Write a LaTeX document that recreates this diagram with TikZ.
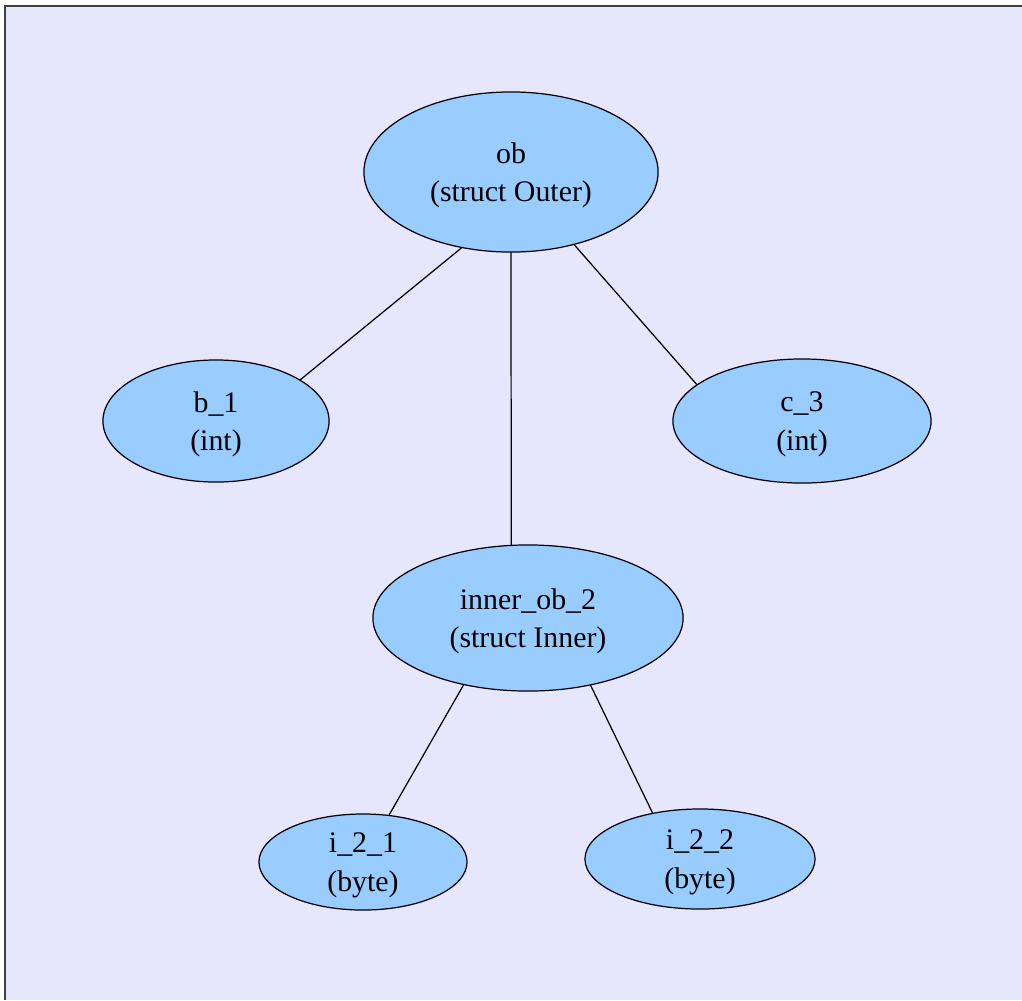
\documentclass[tikz,border=0pt]{standalone}
\usepackage{fontspec}
\setmainfont{Liberation Serif}
\usetikzlibrary{shapes}
\definecolor{bgcol}{HTML}{E6E6FC}
\definecolor{nodecol}{HTML}{99CCFF}
\tikzset{field/.style={ellipse,draw,line width=0.35pt,fill=nodecol,inner sep=0pt,outer sep=0pt,align=center,text depth=-1.8pt,font=\fontsize{8.5}{11}\selectfont}}

\begin{document}
\begin{tikzpicture}[x=0.01cm,y=-0.01cm]
  \useasboundingbox (0,0) rectangle (1022,1000);
  \fill[bgcol] (5,6) rectangle (1022,1000);
  \draw[black!75,line width=0.5pt] (5,1000) -- (5,6) -- (1022,6);
  \node(ob) [field,minimum width=2.94cm,minimum height=1.60cm] at (511,172) {ob\\(struct Outer)};
  \node(b1) [field,minimum width=2.26cm,minimum height=1.22cm] at (216,421) {b\_1\\(int)};
  \node(c3) [field,minimum width=2.58cm,minimum height=1.24cm] at (802,421) {c\_3\\(int)};
  \node(inner) [field,minimum width=3.10cm,minimum height=1.46cm] at (528,618) {inner\_ob\_2\\(struct Inner)};
  \node(i21) [field,minimum width=2.08cm,minimum height=0.96cm] at (363,862) {i\_2\_1\\(byte)};
  \node(i22) [field,minimum width=2.30cm,minimum height=1.00cm] at (700,859) {i\_2\_2\\(byte)};
  \draw[line width=0.35pt] (ob.237) -- (b1.26);
  \draw[line width=0.35pt] (ob.south) -- (inner.103);
  \draw[line width=0.35pt] (ob.-49) -- (c3.161);
  \draw[line width=0.35pt] (inner.226) -- (i21.61);
  \draw[line width=0.35pt] (inner.-47) -- (i22.136);
\end{tikzpicture}
\end{document}
